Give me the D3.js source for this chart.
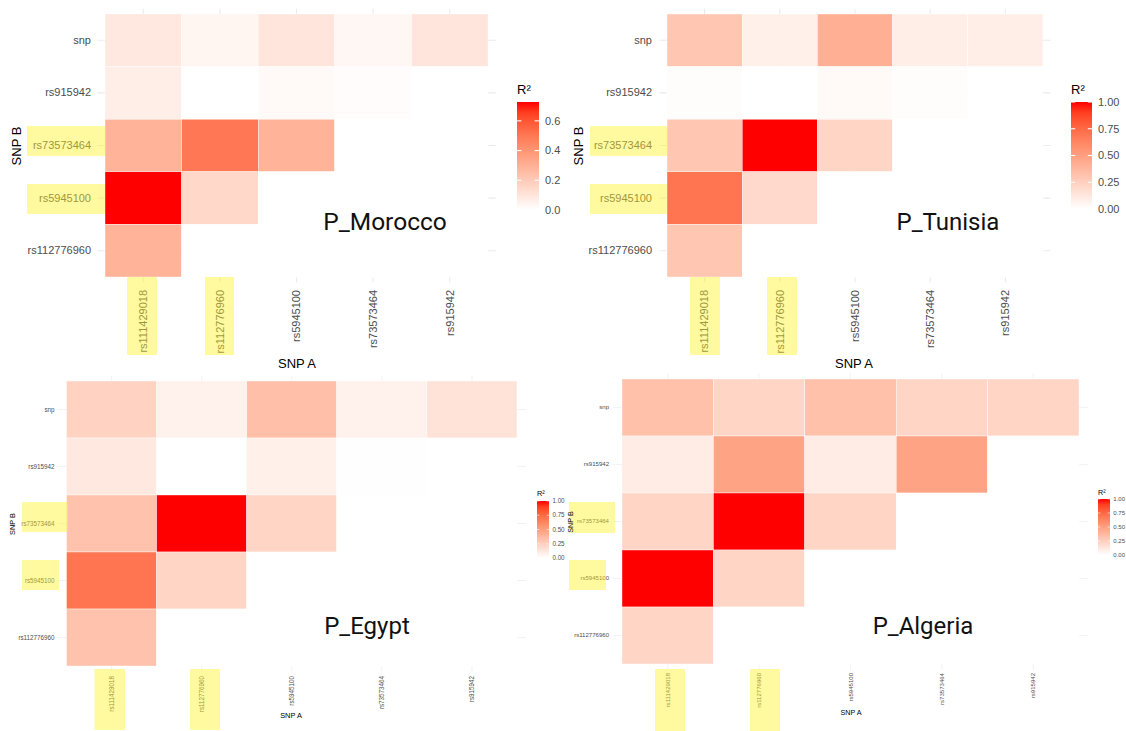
<!DOCTYPE html>
<html>
<head>
<meta charset="utf-8">
<script src="https://cdn.jsdelivr.net/npm/d3@7"></script>
<style>
  body { margin: 0; background: #fff; }
  svg { display: block; font-family: "Liberation Sans", Arial, sans-serif; }
</style>
</head>
<body>
<svg width="1126" height="731"></svg>
<script>
// SNP pairs, columns = SNP A, rows = SNP B (top to bottom)
const snpA = ["rs111429018", "rs112776960", "rs5945100", "rs73573464", "rs915942"];
const snpB = ["snp", "rs915942", "rs73573464", "rs5945100", "rs112776960"];

// R² values, one row per SNP B, null = no pair
const moroccoR2 = [
  [0.09, 0.035, 0.10, 0.03, 0.10],
  [0.065, 0.0, 0.02, 0.01, null],
  [0.29, 0.50, 0.29, null, null],
  [0.727, 0.15, null, null, null],
  [0.29, null, null, null, null]
];
const tunisiaR2 = [
  [0.30, 0.08, 0.42, 0.09, 0.09],
  [0.01, 0.0, 0.03, 0.01, null],
  [0.30, 1.0, 0.22, null, null],
  [0.70, 0.20, null, null, null],
  [0.30, null, null, null, null]
];
const egyptR2 = [
  [0.24, 0.07, 0.34, 0.07, 0.15],
  [0.12, 0.0, 0.08, 0.005, null],
  [0.32, 1.0, 0.22, null, null],
  [0.70, 0.22, null, null, null],
  [0.32, null, null, null, null]
];
const algeriaR2 = [
  [0.33, 0.22, 0.33, 0.22, 0.22],
  [0.10, 0.48, 0.10, 0.48, null],
  [0.22, 1.0, 0.22, null, null],
  [1.0, 0.22, null, null, null],
  [0.22, null, null, null, null]
];

// legend breaks
const breaksMorocco = [0, 0.2, 0.4, 0.6];
const breaksOther = [0, 0.25, 0.5, 0.75, 1];

const svg = d3.select("svg");
const defs = svg.append("defs");

const panels = [
  { id: "mor", title: "P_Morocco", values: moroccoR2, max: 0.727, breaks: breaksMorocco, fmt: d3.format(".1f"),
    x0: 105, x1: 488, y0: 14, y1: 277, k: 1, ypad: 14, xpad: 13,
    leg: { x: 517, w: 22, top: 102, bot: 210 }, title_xy: [385, 230], fs: 24.5,
    snpB_xy: [16, 146], snpA_xy: [297, 368],
    boxB: [[27, 105, 126, 156], [27, 105, 184, 214]], boxA: [[127, 157, 277, 355], [205, 234, 277, 355]] },
  { id: "tun", title: "P_Tunisia", values: tunisiaR2, max: 1, breaks: breaksOther, fmt: d3.format(".2f"),
    x0: 667, x1: 1043, y0: 14, y1: 277, k: 1, ypad: 15, xpad: 13,
    leg: { x: 1071, w: 21, top: 102, bot: 209 }, title_xy: [948, 230], fs: 24,
    snpB_xy: [578, 146], snpA_xy: [854, 368],
    boxB: [[590, 667, 126, 156], [590, 667, 184, 214]], boxA: [[690, 720, 277, 355], [767, 797, 277, 355]] },
  { id: "egy", title: "P_Egypt", values: egyptR2, max: 1, breaks: breaksOther, fmt: d3.format(".2f"),
    x0: 66.5, x1: 517, y0: 381, y1: 666, k: 0.57, ypad: 12, xpad: 10,
    leg: { x: 537, w: 12, top: 501, bot: 558 }, title_xy: [367, 634], fs: 24,
    snpB_xy: [12, 524], snpA_xy: [291, 718],
    boxB: [[22, 68, 502, 532], [22, 59, 560, 590]], boxA: [[94.5, 125, 669, 730], [190, 220, 669, 730]] },
  { id: "alg", title: "P_Algeria", values: algeriaR2, max: 1, breaks: breaksOther, fmt: d3.format(".2f"),
    x0: 622, x1: 1079, y0: 379, y1: 664, k: 0.55, ypad: 13, xpad: 9,
    leg: { x: 1098, w: 12, top: 499, bot: 555 }, title_xy: [923, 634], fs: 24,
    snpB_xy: [570, 522], snpA_xy: [851, 715],
    boxB: [[569, 615, 502, 533], [569, 606, 560, 590]], boxA: [[655, 685, 669, 731], [750, 780, 669, 731]] }
];

function drawPanel(p) {
  const g = svg.append("g");
  const x = d3.scaleBand().domain(snpA).range([p.x0, p.x1]);
  const y = d3.scaleBand().domain(snpB).range([p.y0, p.y1]);
  const color = d3.scaleLinear().domain([0, p.max]).range(["#ffffff", "#ff0000"])
    .interpolate(d3.interpolateLab).clamp(true);
  const ex = x.bandwidth() * 0.1, ey = y.bandwidth() * 0.1;

  // grid
  g.append("g").selectAll("line").data(snpA).join("line")
    .attr("x1", d => x(d) + x.bandwidth() / 2).attr("x2", d => x(d) + x.bandwidth() / 2)
    .attr("y1", p.y0 - ey).attr("y2", p.y1 + ey)
    .attr("stroke", "#ebebeb").attr("stroke-width", 1.1 * p.k);
  g.append("g").selectAll("line").data(snpB).join("line")
    .attr("y1", d => y(d) + y.bandwidth() / 2).attr("y2", d => y(d) + y.bandwidth() / 2)
    .attr("x1", p.x0 - ex).attr("x2", p.x1 + ex)
    .attr("stroke", "#ebebeb").attr("stroke-width", 1.1 * p.k);

  // tiles
  const cells = [];
  snpB.forEach((b, i) => snpA.forEach((a, j) => cells.push({ a, b, v: p.values[i][j] })));
  g.append("g").selectAll("rect").data(cells).join("rect")
    .attr("x", d => x(d.a)).attr("y", d => y(d.b))
    .attr("width", x.bandwidth()).attr("height", y.bandwidth())
    .attr("fill", d => d.v == null ? "#fff" : color(d.v))
    .attr("stroke", "#fff").attr("stroke-width", 0.4);

  // axes
  const fsTick = 11 * p.k;
  const ax = g.append("g").attr("transform", `translate(${p.x0},0)`)
    .call(d3.axisLeft(y).tickSize(0).tickPadding(p.ypad));
  ax.select(".domain").remove();
  ax.selectAll("text").attr("fill", "#4d4d4d").style("font-size", fsTick + "px")
    .style("font-family", '"Liberation Sans", Arial, sans-serif');

  const bx = g.append("g").attr("transform", `translate(0,${p.y1})`)
    .call(d3.axisBottom(x).tickSize(0).tickPadding(p.xpad));
  bx.select(".domain").remove();
  bx.selectAll("text").attr("fill", "#4d4d4d").style("font-size", fsTick + "px")
    .style("font-family", '"Liberation Sans", Arial, sans-serif')
    .attr("transform", "rotate(-90)").attr("x", -p.xpad).attr("y", 0)
    .attr("dy", "0.35em").attr("text-anchor", "end");

  // highlighter boxes over marked labels
  const hl = g.append("g").attr("fill", "#fff22c").attr("fill-opacity", 0.45);
  p.boxB.forEach(b => hl.append("rect").attr("x", b[0]).attr("y", b[2]).attr("width", b[1] - b[0]).attr("height", b[3] - b[2]));
  p.boxA.forEach(b => hl.append("rect").attr("x", b[0]).attr("y", b[2]).attr("width", b[1] - b[0]).attr("height", b[3] - b[2]));

  // axis titles
  g.append("text").attr("transform", `translate(${p.snpB_xy[0]},${p.snpB_xy[1]}) rotate(-90)`)
    .attr("text-anchor", "middle").attr("dy", "0.35em").style("font-size", 13 * p.k + "px")
    .attr("fill", "#000").text("SNP B");
  g.append("text").attr("x", p.snpA_xy[0]).attr("y", p.snpA_xy[1])
    .attr("text-anchor", "middle").style("font-size", 13 * p.k + "px")
    .attr("fill", "#000").text("SNP A");

  // legend
  const L = p.leg;
  const grad = defs.append("linearGradient").attr("id", "grad-" + p.id)
    .attr("x1", 0).attr("y1", 1).attr("x2", 0).attr("y2", 0);
  d3.range(0, 1.0001, 0.1).forEach(t => grad.append("stop")
    .attr("offset", t).attr("stop-color", color(t * p.max)));
  g.append("rect").attr("x", L.x).attr("y", L.top).attr("width", L.w).attr("height", L.bot - L.top)
    .attr("fill", `url(#grad-${p.id})`);
  const ly = d3.scaleLinear().domain([0, p.max]).range([L.bot, L.top]);
  const tl = L.w / 5;
  const lt = g.append("g").attr("stroke", "#fff").attr("stroke-width", 1.1 * p.k);
  p.breaks.forEach(b => {
    lt.append("line").attr("x1", L.x).attr("x2", L.x + tl).attr("y1", ly(b)).attr("y2", ly(b));
    lt.append("line").attr("x1", L.x + L.w - tl).attr("x2", L.x + L.w).attr("y1", ly(b)).attr("y2", ly(b));
  });
  g.append("g").selectAll("text").data(p.breaks).join("text")
    .attr("x", L.x + L.w + 6 * p.k).attr("y", d => ly(d)).attr("dy", "0.35em")
    .attr("fill", "#4d4d4d").style("font-size", fsTick + "px").text(p.fmt);
  g.append("text").attr("x", L.x).attr("y", L.top - 8 * p.k)
    .style("font-size", 13 * p.k + "px").attr("fill", "#000").text("R²");

  // panel title
  g.append("text").attr("x", p.title_xy[0]).attr("y", p.title_xy[1])
    .attr("text-anchor", "middle").style("font-family", "Roboto, sans-serif")
    .style("font-size", p.fs + "px").attr("fill", "#111").text(p.title);
}

panels.forEach(drawPanel);
</script>
</body>
</html>
